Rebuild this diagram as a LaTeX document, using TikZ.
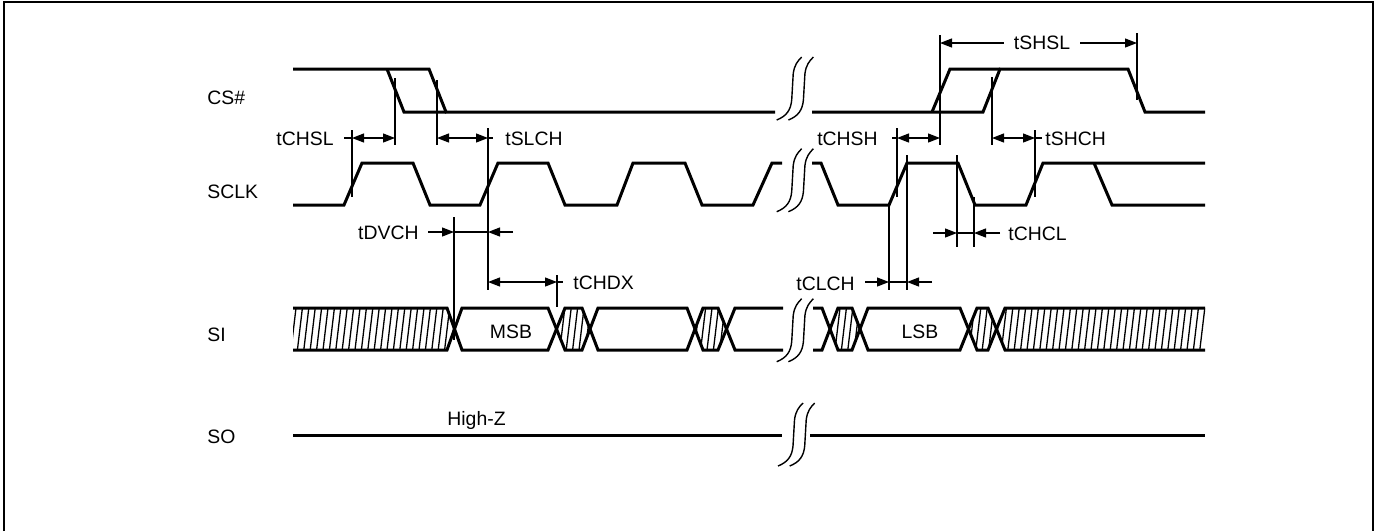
\documentclass[tikz,border=0pt]{standalone}
\usepackage{fontspec}
\setmainfont{Liberation Sans}
\usetikzlibrary{arrows.meta}

\tikzset{
  brk/.pic={
    \foreach \d in {0,11.7}
      \draw[line width=0.7pt] (\d,0) .. controls (\d+10,-4) and (\d+14,-10) .. (\d+15,-20) -- (\d+16.5,-46) .. controls (\d+17.5,-55) and (\d+21,-59) .. (\d+25,-63);
  }
}

\begin{document}
\begin{tikzpicture}[x=0.5pt, y=-0.5pt, >={Triangle[length=6pt,width=4.5pt]},
    font=\fontsize{9.7}{11}\selectfont, inner sep=0pt,
    wave/.style={line width=1.5pt},
    guide/.style={line width=0.6pt},
    hatch/.style={line width=0.65pt}]
  \useasboundingbox (0,0) rectangle (1380,531);
  \draw[line width=1pt] (4,531) -- (4,2) -- (1372.5,2) -- (1372.5,531);

  \node[anchor=west] (CS) at (207,98) {CS\#};
  \node[anchor=west] (SCLK) at (207,192) {SCLK};
  \node[anchor=west] (SI) at (207,335) {SI};
  \node[anchor=west] (SO) at (207,437) {SO};

  % CS#
  \draw[wave] (293,69) -- (429,69) -- (446,112) -- (775,112);
  \draw[wave] (387,69) -- (404,112) -- (446,112);
  \draw[wave] (812,112) -- (983,112) -- (1000,69) -- (1128,69) -- (1145,112) -- (1205,112);
  \draw[wave] (932,112) -- (950,69) -- (1000,69);

  % SCLK
  \draw[wave] (293,205) -- (344,205) -- (362,163) -- (413,163) -- (430,205) -- (480,205) -- (498,163) -- (548,163) -- (565,205) -- (617,205) -- (633,163) -- (685,163) -- (702,205) -- (753,205) -- (772,163) -- (782,163);
  \draw[wave] (812,163) -- (821,163) -- (838,205) -- (889,205) -- (907,163) -- (958,163) -- (975,205) -- (1026,205) -- (1043,163) -- (1205,163);
  \draw[wave] (1094,163) -- (1112,205) -- (1205,205);

  % SI
  \begin{scope}
    \clip (293,308) -- (447,308) -- (454.5,329) -- (447,350) -- (293,350) -- cycle
      (556.5,329) -- (565,308) -- (582,308) -- (590,329) -- (582,350) -- (565,350) -- cycle
      (695,329) -- (703,308) -- (718,308) -- (726.5,329) -- (718,350) -- (703,350) -- cycle
      (830,329) -- (838,308) -- (852,308) -- (860,329) -- (852,350) -- (838,350) -- cycle
      (968.5,329) -- (977,308) -- (988,308) -- (996.5,329) -- (988,350) -- (977,350) -- cycle
      (996.5,329) -- (1005,308) -- (1205,308) -- (1205,350) -- (1005,350) -- cycle;
    \foreach \x in {291,297.4,...,1208}
      \draw[hatch] (\x,350) -- (\x+5,308);
  \end{scope}
  \draw[wave] (293,308) -- (447,308) -- (462,350) -- (548,350) -- (565,308) -- (582,308) -- (598,350) -- (687,350) -- (703,308) -- (718,308) -- (735,350) -- (783,350);
  \draw[wave] (293,350) -- (447,350) -- (462,308) -- (548,308) -- (565,350) -- (582,350) -- (598,308) -- (687,308) -- (703,350) -- (718,350) -- (735,308) -- (783,308);
  \draw[wave] (813,308) -- (822,308) -- (838,350) -- (852,350) -- (868,308) -- (960,308) -- (977,350) -- (988,350) -- (1005,308) -- (1205,308);
  \draw[wave] (813,350) -- (822,350) -- (838,308) -- (852,308) -- (868,350) -- (960,350) -- (977,308) -- (988,308) -- (1005,350) -- (1205,350);
  \node (MSB) at (511,332) {MSB};
  \node (LSB) at (920,332) {LSB};

  % SO
  \draw[wave] (293,435) -- (782,435);
  \draw[wave] (810,435) -- (1205,435);
  \node[anchor=west] (HighZ) at (447,420) {High-Z};

  % breaks
  \pic at (776.7,120) {brk};
  \pic at (776.7,211.7) {brk};
  \pic at (776.7,361.7) {brk};
  \pic at (778,466) {brk};

  % guides
  \draw[guide] (352,130) -- (352,197);
  \draw[guide] (395,78) -- (395,145);
  \draw[guide] (437,80) -- (437,145);
  \draw[guide] (488,128) -- (488,290);
  \draw[guide] (454,217) -- (454,340);
  \draw[guide] (557,275) -- (557,307);
  \draw[guide] (940,35) -- (940,145);
  \draw[guide] (1137,33) -- (1137,100);
  \draw[guide] (897,128) -- (897,197);
  \draw[guide] (992,77) -- (992,145);
  \draw[guide] (1035,130) -- (1035,197);
  \draw[guide] (957,155) -- (957,247);
  \draw[guide] (974,197) -- (974,247);
  \draw[guide] (889,206) -- (889,290);
  \draw[guide] (907,155) -- (907,290);

  % timing
  \node[anchor=east] (tCHSL) at (334,139) {tCHSL};
  \draw[guide] (344,138) -- (352,138);
  \draw[guide,<->] (352,138) -- (395,138);
  \node[anchor=west] (tSLCH) at (505,139) {tSLCH};
  \draw[guide,<->] (437,138) -- (488,138);
  \draw[guide] (488,138) -- (493,138);
  \node[anchor=east] (tDVCH) at (419,233) {tDVCH};
  \draw[guide,->] (428,232) -- (454,232);
  \draw[guide] (454,232) -- (488,232);
  \draw[guide,->] (513,232) -- (488,232);
  \node[anchor=west] (tCHDX) at (573,283) {tCHDX};
  \draw[guide,<->] (488,282) -- (557,282);
  \draw[guide] (557,282) -- (563,282);
  \node[anchor=east] (tCHSH) at (878,139) {tCHSH};
  \draw[guide] (892,138) -- (897,138);
  \draw[guide,<->] (897,138) -- (940,138);
  \node[anchor=west] (tSHCH) at (1045,139) {tSHCH};
  \draw[guide,<->] (992,138) -- (1035,138);
  \draw[guide] (1035,138) -- (1042,138);
  \draw[guide,<->] (940,43) -- (1137,43);
  \node[fill=white, inner xsep=5pt, inner ysep=1pt] (tSHSL) at (1042,43) {tSHSL};
  \node[anchor=west] (tCHCL) at (1008,234) {tCHCL};
  \draw[guide,->] (933,233) -- (957,233);
  \draw[guide] (957,233) -- (974,233);
  \draw[guide,->] (1000,233) -- (974,233);
  \node[anchor=east] (tCLCH) at (855,284) {tCLCH};
  \draw[guide,->] (865,282) -- (889,282);
  \draw[guide] (889,282) -- (907,282);
  \draw[guide,->] (932,282) -- (907,282);
\end{tikzpicture}
\end{document}
